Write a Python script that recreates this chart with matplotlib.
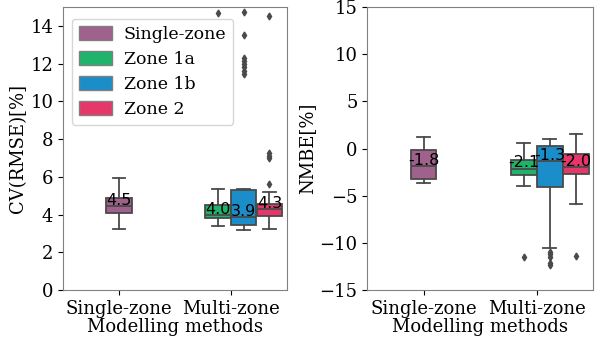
import matplotlib
matplotlib.use("Agg")
import matplotlib.pyplot as plt
from matplotlib.patches import Patch

plt.rcParams['font.family'] = ['DejaVu Serif']

# groups / hue levels
groups = ["Single-zone", "Multi-zone"]
zones = ["Single-zone", "Zone 1a", "Zone 1b", "Zone 2"]
zone_group = [0, 1, 1, 1]
colors = ["#a0628c", "#1fb36b", "#1b8dc8", "#e6376a"]

# CV(RMSE) box stats: whislo, q1, med, q3, whishi
cv_lo = [3.23, 3.41, 3.16, 3.23]
cv_q1 = [4.08, 3.80, 3.44, 3.90]
cv_med = [4.47, 3.97, 3.88, 4.30]
cv_q3 = [4.90, 4.53, 5.29, 4.58]
cv_hi = [5.95, 5.38, 5.33, 5.18]
cv_fliers = [[], [14.7], [14.75, 13.5, 12.3, 12.15, 11.98, 11.8, 11.62, 11.45],
             [14.55, 7.25, 7.12, 7.0, 5.62]]

# NMBE box stats
nm_lo = [-3.66, -3.97, -10.53, -5.85]
nm_q1 = [-3.25, -2.84, -4.12, -2.66]
nm_med = [-1.82, -2.12, -1.3, -2.0]
nm_q3 = [-0.15, -1.22, 0.3, -0.58]
nm_hi = [1.25, 0.55, 0.98, 1.52]
nm_fliers = [[], [-11.5], [-11.0, -11.2, -11.45, -12.1, -12.35], [-11.4]]

# dodge offsets inside a group
offsets = [0.0, -0.115, 0.115, 0.345]
box_w = 0.225


def draw(ax, lo, q1, med, q3, hi, fliers):
    stats = []
    for i in range(len(zones)):
        stats.append(dict(whislo=lo[i], q1=q1[i], med=med[i], q3=q3[i],
                          whishi=hi[i], fliers=fliers[i]))
    pos = [zone_group[i] + offsets[i] for i in range(len(zones))]
    edge = "#4a4a4a"
    bp = ax.bxp(stats, positions=pos, widths=box_w, patch_artist=True,
                boxprops=dict(edgecolor=edge, linewidth=1.3),
                medianprops=dict(color=edge, linewidth=1.3),
                whiskerprops=dict(color=edge, linewidth=1.3),
                capprops=dict(color=edge, linewidth=1.3),
                flierprops=dict(marker="d", markersize=3.5, markerfacecolor=edge,
                                markeredgecolor=edge))
    for b, c in zip(bp["boxes"], colors):
        b.set_facecolor(c)
    for p, m in zip(pos, med):
        ax.annotate(f"{m:.1f}", (p, m), xytext=(0, 4), textcoords="offset points",
                    ha="center", va="center", fontsize=11.5, family="DejaVu Sans")
    ax.set_xticks([0, 1])
    ax.set_xticklabels(groups, fontsize=13)
    ax.set_xlim(-0.5, 1.5)
    ax.set_xlabel("Modelling methods", fontsize=13, labelpad=0)
    ax.tick_params(axis="y", labelsize=13)
    for s in ax.spines.values():
        s.set_color("0.5")


fig = plt.figure(figsize=(6, 3.38), dpi=100)
ax1 = fig.add_axes([0.105, 0.142, 0.373, 0.837])
ax2 = fig.add_axes([0.612, 0.142, 0.377, 0.837])

draw(ax1, cv_lo, cv_q1, cv_med, cv_q3, cv_hi, cv_fliers)
ax1.set_ylim(0, 15)
ax1.set_yticks(range(0, 15, 2))
ax1.set_ylabel("CV(RMSE)[%]", fontsize=13, labelpad=2)
handles = [Patch(facecolor=c, edgecolor="0.5", label=z) for c, z in zip(colors, zones)]
leg = ax1.legend(handles=handles, loc="upper left", fontsize=12.5, handlelength=1.9,
                 handleheight=0.9, borderpad=0.4, labelspacing=0.45, handletextpad=0.7,
                 bbox_to_anchor=(0.0, 0.99))
leg.set_zorder(1)

draw(ax2, nm_lo, nm_q1, nm_med, nm_q3, nm_hi, nm_fliers)
ax2.set_ylim(-15, 15)
ax2.set_yticks(range(-15, 16, 5))
ax2.set_ylabel("NMBE[%]", fontsize=13, labelpad=2)

fig.savefig("out.png", dpi=100)
